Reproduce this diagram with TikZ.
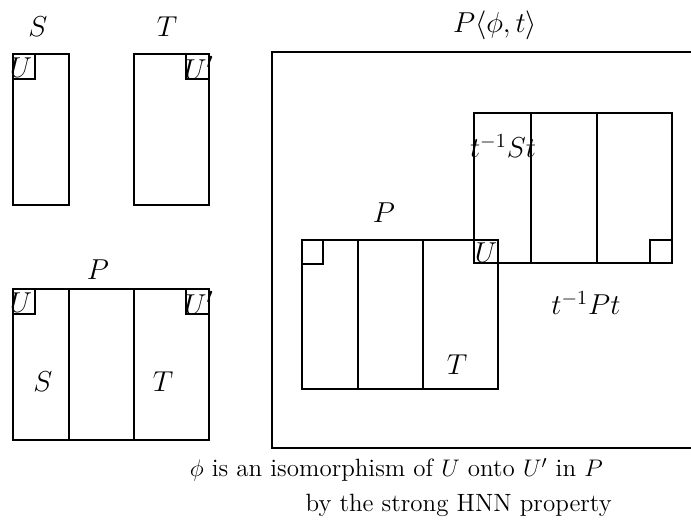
\documentclass[tikz,border=0pt]{standalone}
\usepackage{fontspec}
\begin{document}
\begin{tikzpicture}[x=0.5pt,y=-0.5pt,line width=1.3pt,
  lab/.style={font=\fontsize{14}{16}\selectfont,inner sep=0pt},
  ulab/.style={font=\fontsize{15}{17}\selectfont,inner sep=0pt},
  captxt/.style={font=\fontsize{12.5}{15}\selectfont,inner sep=0pt}]
\useasboundingbox (0,0) rectangle (691,525);
% --- S ---
\node[lab] (labS) at (38,27) {$S$};
\draw (13,54) rectangle (69,205);
\draw (13,79) -| (35,54);
\node[ulab] (uS) at (21,68) {$U$};
% --- T ---
\node[lab] (labT) at (167,27) {$T$};
\draw (134,54) rectangle (209,205);
\draw (209,79) -| (186,54);
\node[ulab] (uT) at (199,68) {$U'$};
% --- P (left) ---
\node[lab] (labP) at (98,270) {$P$};
\draw (13,289) rectangle (209,440);
\draw (69,289) -- (69,440);
\draw (134,289) -- (134,440);
\draw (13,314) -| (35,289);
\draw (209,314) -| (186,289);
\node[ulab] (uP) at (21,303) {$U$};
\node[ulab] (uPp) at (199,303) {$U'$};
\node[lab] (sP) at (43,382) {$S$};
\node[lab] (tP) at (163,382) {$T$};
% --- P<phi,t> ---
\node[lab] (labHNN) at (495,25) {$P\langle\phi,t\rangle$};
\draw (691,52) -- (272,52) -- (272,448) -- (691,448);
% inner P
\node[lab] (labP2) at (384,213) {$P$};
\draw (302,240) rectangle (498,389);
\draw (358,240) -- (358,389);
\draw (423,240) -- (423,389);
\draw (302,264) -| (323,240);
\node[lab] (tP2) at (457,365) {$T$};
% t^{-1}Pt
\draw (474,113) rectangle (672,263);
\draw (531,113) -- (531,263);
\draw (597,113) -- (597,263);
\draw (650,263) |- (672,240);
\node[ulab] (uP2) at (486,253) {$U$};
\node[lab] (tSt) at (503,146) {$t^{-1}St$};
\node[lab] (tPt) at (586,303) {$t^{-1}Pt$};
% caption
\node[captxt,anchor=east] (cap1) at (604,470) {$\phi$ is an isomorphism of $U$ onto $U'$ in $P$};
\node[captxt,anchor=east] (cap2) at (613,505) {by the strong HNN property};
\end{tikzpicture}
\end{document}
